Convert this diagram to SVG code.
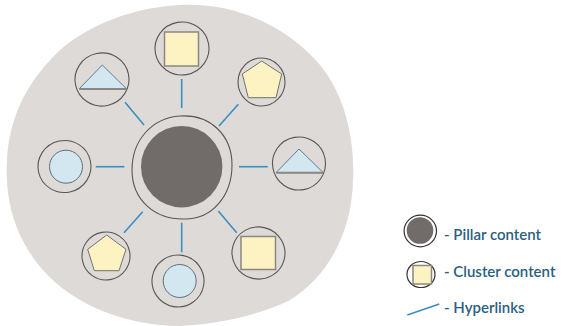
<svg xmlns="http://www.w3.org/2000/svg" width="562" height="326" viewBox="0 0 562 326">
<style>
.ring{fill:none;stroke:#5a5654;stroke-width:1.1}
.sq{fill:#fdf3c2;stroke:#8c8782;stroke-width:1.5}
.pent{fill:#fdf3c2;stroke:#75706c;stroke-width:1}
.tri{fill:#d3e7f0;stroke:#5f7f90;stroke-width:1}
.tribase{stroke:#8c8782;stroke-width:2}
.circ{fill:#d3e7f0;stroke:#5f6f78;stroke-width:1}
.link{stroke:#3b8ec2;stroke-width:1.6;fill:none}
.lbl{font-family:"Lato","Liberation Sans",sans-serif;font-size:15px;font-weight:600;fill:#2a6080}
</style>
<rect width="562" height="326" fill="#ffffff"/>
<path id="bg" d="M 180,5 C 240,2 290,30 320,65 C 345,95 355,140 353,180 C 352,230 330,275 290,300 C 260,315 220,324 180,326 C 120,326 65,300 37,263 C 12,230 5,195 7,160 C 9,120 25,85 55,55 C 80,30 125,8 180,5 Z" fill="#dddad7"/>
<g id="connectors">
<line class="link" x1="181.7" y1="79" x2="181.7" y2="108"/>
<line class="link" x1="238.3" y1="104.3" x2="219" y2="126"/>
<line class="link" x1="239" y1="166.7" x2="267.7" y2="166.7"/>
<line class="link" x1="218.3" y1="211" x2="236.7" y2="232.7"/>
<line class="link" x1="181.7" y1="222.7" x2="181.7" y2="252.3"/>
<line class="link" x1="142.7" y1="211.7" x2="124" y2="232.7"/>
<line class="link" x1="95.7" y1="166.7" x2="124.3" y2="166.7"/>
<line class="link" x1="125" y1="102.3" x2="144" y2="125"/>
</g>
<g id="pillar">
<path class="ring" d="M 180,116 C 210,114 232,135 232,165 C 232,196 212,219 185,219 C 155,220 132,200 132,170 C 132,140 152,118 180,116 Z"/>
<circle cx="181.7" cy="166.7" r="40.7" fill="#716c69"/>
</g>
<g id="cluster-top">
<ellipse class="ring" cx="182" cy="48.5" rx="27" ry="26.5" transform="rotate(-10 182 48.5)"/>
<rect class="sq" x="164.5" y="32" width="34" height="34"/>
</g>
<g id="cluster-topright">
<ellipse class="ring" cx="261.5" cy="82" rx="23.5" ry="24"/>
<polygon class="pent" points="261.7,61 281.7,74 276,97.7 248.3,97.7 242.3,74"/>
</g>
<g id="cluster-right">
<ellipse class="ring" cx="299" cy="163.5" rx="26.5" ry="26.5" transform="rotate(-10 299 163.5)"/>
<polygon class="tri" points="299,149 323.3,172.7 276,172.7"/>
<line class="tribase" x1="276.5" y1="172.7" x2="322.8" y2="172.7"/>
</g>
<g id="cluster-bottomright">
<ellipse class="ring" cx="258.5" cy="253" rx="26.5" ry="26" transform="rotate(15 258.5 253)"/>
<rect class="sq" x="241" y="236.5" width="34.5" height="33"/>
</g>
<g id="cluster-bottom">
<ellipse class="ring" cx="178" cy="281" rx="26" ry="26" transform="rotate(10 178 281)"/>
<circle class="circ" cx="179.7" cy="281" r="16.5"/>
</g>
<g id="cluster-bottomleft">
<ellipse class="ring" cx="106" cy="256" rx="24" ry="24" transform="rotate(-10 106 256)"/>
<polygon class="pent" points="106.7,235 126,249.3 119,270.7 94.3,270.7 87.7,249.3"/>
</g>
<g id="cluster-left">
<ellipse class="ring" cx="64.5" cy="166.5" rx="26.5" ry="26" transform="rotate(-12 64.5 166.5)"/>
<circle class="circ" cx="66" cy="166.7" r="16.5"/>
</g>
<g id="cluster-topleft">
<ellipse class="ring" cx="102" cy="79.5" rx="27" ry="26.5" transform="rotate(-12 102 79.5)"/>
<polygon class="tri" points="102.3,65 126.7,89 79,89"/>
<line class="tribase" x1="79.5" y1="89" x2="126.2" y2="89"/>
</g>
<g id="legend-pillar">
<ellipse class="ring" cx="420.3" cy="231" rx="16.2" ry="15.8" style="stroke:#333;stroke-width:1.2"/>
<circle cx="420" cy="230.5" r="13.3" fill="#716c69"/>
<text class="lbl" x="444" y="240">- Pillar content</text>
</g>
<g id="legend-cluster">
<ellipse class="ring" cx="421" cy="274.5" rx="14" ry="13" style="stroke:#333;stroke-width:1.2"/>
<rect class="sq" x="413" y="265.5" width="18.5" height="18.5"/>
<text class="lbl" x="444" y="277.3">- Cluster content</text>
</g>
<g id="legend-link">
<line class="link" x1="407.3" y1="315" x2="439.3" y2="304"/>
<text class="lbl" x="444" y="313.3">- Hyperlinks</text>
</g>
</svg>
